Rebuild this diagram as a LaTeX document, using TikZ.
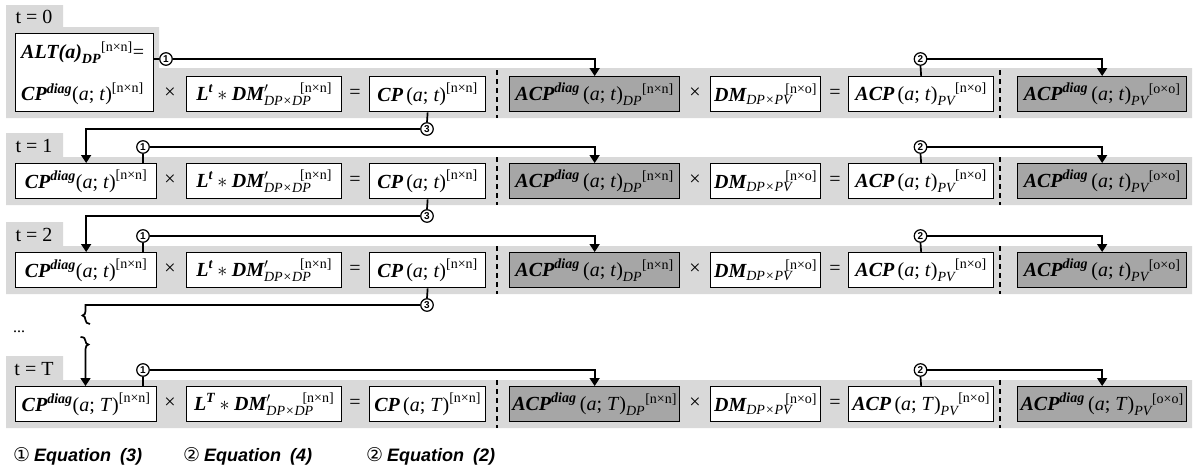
\RequirePackage{fix-cm}
\documentclass[tikz,border=0pt]{standalone}
\usepackage{amsmath}
\usepackage{fontspec}
\setmainfont{Liberation Serif}
\newfontfamily\symfont{DejaVu Sans}
\newfontfamily\legfont{Liberation Sans}
\usetikzlibrary{arrows.meta}
\definecolor{bandgray}{RGB}{217,217,217}
\definecolor{boxgray}{RGB}{166,166,166}
\newcommand{\boxfont}{\fontsize{20}{24}\selectfont}
% pieces of the matrix formulas
\newcommand{\bv}[1]{\text{\bfseries\itshape #1}}
\newcommand{\iv}[1]{\text{\itshape #1}}
\newcommand{\args}[1]{\text{(\textit{a}; \textit{#1})}}
\newcommand{\dims}[1]{\text{[#1]}}

% one row of the matrix chain, from the second factor on
\newcommand{\eqcells}[4]{% #1 id, #2 top of the boxes, #3 time symbol, #4 exponent of L
  \node[op] (m1#1) at (170,#2+17.5) {×};
  \node[box, minimum width=155pt] (B#1) at (186,#2)
    {$\bv{L}^{\bv{#4}}\ast\bv{DM}^{\prime}_{\iv{DP×DP}}\mkern-10mu{}^{\dims{n×n}}$};
  \node[op] (q1#1) at (355,#2+17.5) {=};
  \node[box, minimum width=116pt] (C#1) at (369,#2)
    {$\bv{CP}\,\args{#3}^{\dims{n×n}}$};
  \draw[sep] (497,#2-6) -- (497,#2+42);
  \node[darkbox, minimum width=170pt] (D#1) at (509,#2)
    {$\bv{ACP}^{\bv{diag}}\,\args{#3}_{\iv{DP}}{}^{\dims{n×n}}$};
  \node[op] (m2#1) at (695,#2+17.5) {×};
  \node[box, minimum width=110pt] (E#1) at (710,#2)
    {$\bv{DM}_{\iv{DP×PV}}\mkern-6mu{}^{\dims{n×o}}$};
  \node[op] (q2#1) at (835,#2+17.5) {=};
  \node[box, minimum width=145pt] (F#1) at (848,#2)
    {$\bv{ACP}\,\args{#3}_{\iv{PV}}{}^{\dims{n×o}}$};
  \draw[sep] (1000,#2-6) -- (1000,#2+42);
  \node[darkbox, minimum width=169pt] (G#1) at (1017,#2)
    {$\bv{ACP}^{\bv{diag}}\,\args{#3}_{\iv{PV}}{}^{\dims{o×o}}$};
}

% gray band with its time tab and the first factor
\newcommand{\eqhead}[4]{% #1 id, #2 top of the boxes, #3 tab value, #4 time symbol
  \fill[bandgray] (6,#2-30) -- (63,#2-30) -- (63,#2-6) -- (1192,#2-6)
    -- (1192,#2+42) -- (6,#2+42) -- cycle;
  \node[tablabel] (tab#1) at (34,#2-17) {t = #3};
  \node[box, minimum width=141pt] (A#1) at (15,#2)
    {$\bv{CP}^{\bv{diag}}\args{#4}^{\dims{n×n}}$};
}

% equation (3) and (4) links inside a row
\newcommand{\eqlinks}[2]{% #1 id, #2 top of the boxes
  \node[num] (n1#1) at (143,#2-16) {1};
  \node[num] (n2#1) at (920.5,#2-16) {2};
  \draw[conn] (n1#1.south) -- (n1#1.south |- A#1.north);
  \draw[arr] (n1#1.east) -| (D#1.north);
  \draw[conn] (F#1.north) -- (n2#1.south);
  \draw[arr] (n2#1.east) -| (G#1.north);
}

\begin{document}
\begin{tikzpicture}[x=1pt, y=-1pt,
  box/.style={draw=black, line width=1.3pt, fill=white, minimum height=35pt,
    inner sep=0pt, anchor=north west, font=\boxfont},
  darkbox/.style={box, fill=boxgray},
  op/.style={inner sep=0pt, font=\boxfont},
  tablabel/.style={inner sep=0pt, font=\boxfont},
  num/.style={circle, draw=black, line width=1.2pt, fill=white, minimum size=12.5pt,
    inner sep=0pt, font=\legfont\bfseries\fontsize{10}{10}\selectfont},
  conn/.style={line width=1.7pt},
  arr/.style={conn, -{Triangle[length=8pt,width=10pt]}},
  sep/.style={line width=1.4pt, dash pattern=on 5pt off 4pt},
  legend/.style={anchor=base west, inner sep=0pt}]
\useasboundingbox (0,0) rectangle (1197,466);

% ---- t = 0 ----
\fill[bandgray] (6,5) -- (63,5) -- (63,27) -- (159,27) -- (159,68) -- (1192,68)
  -- (1192,118) -- (6,118) -- cycle;
\node[tablabel] (tab0) at (34,17) {t = 0};
\node[box, minimum width=138pt, minimum height=78pt] (A0) at (15,33) {};
\node[anchor=west, inner sep=0pt, font=\boxfont] (alt0) at (21,53)
  {$\bv{ALT(a)}_{\bv{DP}}{}^{\dims{n×n}}\text{=}$};
\node[anchor=west, inner sep=0pt, font=\boxfont] (cp0) at (21,94)
  {$\bv{CP}^{\bv{diag}}\args{t}^{\dims{n×n}}$};
\eqcells{0}{76}{t}{t}

% ---- t = 1, t = 2, t = T ----
\eqhead{1}{163}{1}{t}
\eqcells{1}{163}{t}{t}
\eqhead{2}{252}{2}{t}
\eqcells{2}{252}{t}{t}
\eqhead{T}{386}{T}{T}
\eqcells{T}{386}{T}{T}

% ---- links of row 0 ----
\node[num] (n10) at (166,59) {1};
\node[num] (n20) at (920.5,59) {2};
\draw[conn] (A0.east |- n10) -- (n10.west);
\draw[arr] (n10.east) -| (D0.north);
\draw[conn] (F0.north) -- (n20.south);
\draw[arr] (n20.east) -| (G0.north);

\eqlinks{1}{163}
\eqlinks{2}{252}
\eqlinks{T}{386}

% ---- equation (2): carry CP into the next step ----
\node[num] (n30) at (427,129) {3};
\draw[conn] (C0.south) -- (n30.north);
\draw[arr] (n30.west) -| (A1.north);

\node[num] (n31) at (427,216) {3};
\draw[conn] (C1.south) -- (n31.north);
\draw[arr] (n31.west) -| (A2.north);

\node[num] (n32) at (427,305) {3};
\draw[conn] (C2.south) -- (n32.north);
\coordinate (cutA) at (85.5,311);
\draw[conn] (n32.west) -| (cutA) .. controls (85.5,313.5) and (84.5,315) .. (82.5,315.5)
  .. controls (84.5,316) and (85.5,317.5) .. (85.5,320)
  .. controls (85.5,322.5) and (87,323.5) .. (90,324);
\coordinate (cutC) at (80.5,337);
\coordinate (cutB) at (85.5,349);
\draw[arr] (cutC) .. controls (84,337) and (85.5,338.5) .. (85.5,341)
  .. controls (85.5,343) and (86.5,344) .. (88.5,344.5)
  .. controls (86.5,345) and (85.5,346.5) .. (cutB) -- (cutB |- AT.north);
\node[anchor=base west, inner sep=0pt, font=\fontsize{16}{18}\selectfont] (dots) at (13,332) {...};

% ---- legend ----
\node[legend] (leg1) at (13,461) {{\symfont\fontsize{19}{21}\selectfont ①}\hspace{4pt}{\legfont\fontsize{18}{21}\selectfont\bfseries\itshape Equation\hspace{0.5em}(3)}};
\node[legend] (leg2) at (183,461) {{\symfont\fontsize{19}{21}\selectfont ②}\hspace{4pt}{\legfont\fontsize{18}{21}\selectfont\bfseries\itshape Equation\hspace{0.5em}(4)}};
\node[legend] (leg3) at (366,461) {{\symfont\fontsize{19}{21}\selectfont ②}\hspace{4pt}{\legfont\fontsize{18}{21}\selectfont\bfseries\itshape Equation\hspace{0.5em}(2)}};
\end{tikzpicture}
\end{document}
